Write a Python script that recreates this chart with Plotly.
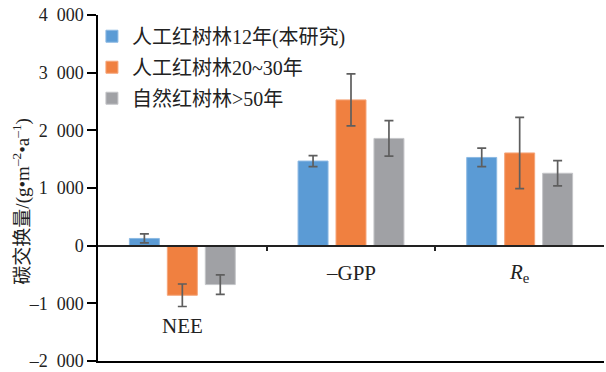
import plotly.graph_objects as go

categories = ["NEE", "–GPP", "<i>R</i><sub>e</sub>"]
series_names = ["人工红树林12年(本研究)", "人工红树林20~30年", "自然红树林>50年"]
values_12 = [125, 1467, 1530]
errors_12 = [78, 95, 160]
values_20 = [-860, 2528, 1608]
errors_20 = [195, 450, 618]
values_50 = [-675, 1860, 1256]
errors_50 = [170, 308, 218]
label_y = [-1385, -470, -470]
y_ticks = [4000, 3000, 2000, 1000, 0, -1000, -2000]
y_tick_text = ["4\u2007000", "3\u2007000", "2\u2007000", "1\u2007000", "0", "–1\u2007000", "–2\u2007000"]

colors = ["#5B9BD5", "#F08040", "#A0A1A5"]
edges = ["#8CB9E3", "#F5A57A", "#C4C5C8"]
serif = "Liberation Serif, Noto Sans CJK SC"

fig = go.Figure()
for i, (name, vals, errs) in enumerate(zip(series_names,
                                          [values_12, values_20, values_50],
                                          [errors_12, errors_20, errors_50])):
    fig.add_trace(go.Bar(
        x=[0, 1, 2], y=vals, name=name, legendgroup=str(i),
        marker=dict(color=colors[i], line=dict(color=edges[i], width=1)),
        error_y=dict(type="data", array=errs, color="#5e5e5e", thickness=1.7, width=4.5),
    ))

# zero line with category-boundary ticks
fig.add_trace(go.Scatter(x=[None], y=[None], xaxis="x2", showlegend=False))

for i, c in enumerate(categories):
    fig.add_annotation(x=i, y=label_y[i], xref="x", yref="y", text=c, showarrow=False,
                       font=dict(family=serif, size=21, color="#222"))

fig.add_annotation(x=0, y=0.462, xref="paper", yref="paper", xshift=-91,
                   text="碳交换量/(g•m<sup>–2</sup>•a<sup>–1</sup>)", textangle=-90,
                   showarrow=False, font=dict(family=serif, size=19, color="#222"))

fig.update_layout(
    width=606, height=372,
    margin=dict(l=98, r=2, t=15, b=11),
    paper_bgcolor="white", plot_bgcolor="white",
    barmode="group", bargap=0.325, bargroupgap=0.21,
    font=dict(family=serif, size=18, color="#222"),
    showlegend=True,
    legend=dict(x=-0.012, y=0.995, xanchor="left", yanchor="top",
                font=dict(family=serif, size=20, color="#222"),
                tracegroupgap=2, bgcolor="rgba(0,0,0,0)", itemwidth=30),
    xaxis=dict(range=[-0.5, 2.5], showline=True, linecolor="black", linewidth=1.5,
               showticklabels=False, ticks="", showgrid=False, zeroline=False, mirror=False),
    xaxis2=dict(range=[-0.5, 2.5], overlaying="x", anchor="free", position=1/3,
                showline=True, linecolor="#222", linewidth=1.5, tickvals=[0.5, 1.5],
                ticks="outside", ticklen=5, tickcolor="#222", tickwidth=1.5,
                showticklabels=False, showgrid=False, zeroline=False),
    yaxis=dict(range=[-2000, 4000], tickvals=y_ticks, ticktext=y_tick_text,
               showline=True, linecolor="black", linewidth=1.5, ticks="outside",
               ticklen=9, tickcolor="black", tickwidth=1.5, showgrid=False, zeroline=False,
               tickfont=dict(family=serif, size=18, color="#222")),
)

fig.write_html("out.html", post_script="document.body.style.margin='0';",
               config={"displayModeBar": False})
